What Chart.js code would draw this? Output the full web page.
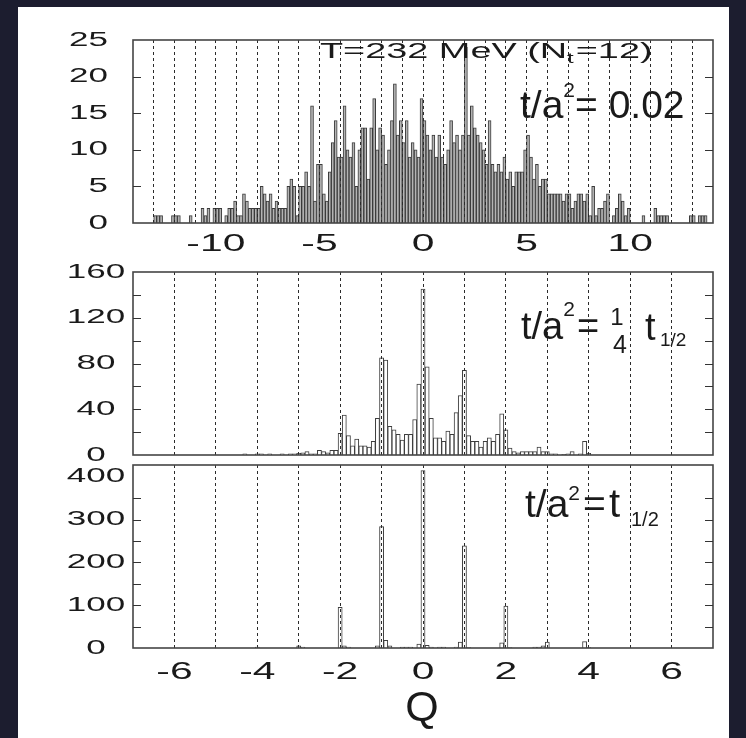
<!DOCTYPE html>
<html>
<head>
<meta charset="utf-8">
<script src="https://cdn.jsdelivr.net/npm/chart.js@4.4.0/dist/chart.umd.min.js"></script>
<style>
  html, body { margin: 0; padding: 0; width: 746px; height: 738px; background: #1c1d2f; overflow: hidden; }
  #sheet { position: absolute; left: 18px; top: 7px; width: 711px; height: 731px; background: #fff; }
  canvas { position: absolute; left: 0; top: 0; }
</style>
</head>
<body>
<div id="sheet"></div>
<canvas id="c1" width="746" height="738"></canvas>
<canvas id="c2" width="746" height="738"></canvas>
<canvas id="c3" width="746" height="738"></canvas>
<script>
// ---- data ----
// t/a^2 = 0.02 : bins of 1/7 in Q starting at Q = -14 (one row per unit of Q)
const flowStart = -14;
const flowBin = 1 / 7;
const flowCounts = [
  0, 0, 0, 0, 0, 0, 0,        // -14
  1, 1, 1, 0, 0, 0, 1,        // -13
  1, 1, 0, 0, 0, 1, 0,        // -12
  0, 0, 2, 1, 2, 0, 2,        // -11
  2, 2, 0, 1, 2, 2, 3,        // -10
  1, 1, 4, 3, 2, 2, 2,        // -9
  2, 5, 4, 3, 4, 2, 3,        // -8
  2, 2, 2, 5, 6, 5, 1,        // -7
  5, 5, 7, 5, 16, 3, 8,       // -6
  8, 4, 3, 7, 11, 14, 9,      // -5
  9, 16, 10, 9, 11, 5, 10,    // -4
  13, 13, 6, 13, 17, 10, 13,  // -3
  12, 8, 10, 14, 19, 12, 14,  // -2
  11, 14, 9, 11, 10, 9, 17,   // -1
  14, 12, 10, 12, 9, 12, 9,   // 0
  8, 10, 14, 11, 12, 10, 12,  // 1
  24, 12, 16, 13, 12, 11, 10, // 2
  8, 14, 8, 7, 8, 7, 9,       // 3
  6, 7, 5, 7, 7, 7, 10,       // 4
  12, 9, 6, 8, 5, 6, 6,       // 5
  4, 4, 4, 4, 4, 3, 4,        // 6
  4, 2, 3, 4, 4, 3, 4,        // 7
  1, 5, 1, 2, 2, 3, 4,        // 8
  0, 1, 2, 4, 3, 1, 2,        // 9
  0, 0, 0, 0, 1, 0, 0,        // 10
  0, 2, 1, 1, 1, 1, 0,        // 11
  0, 0, 0, 0, 0, 0, 1,        // 12
  1, 0, 1, 1, 1, 0, 0         // 13
];

// lower two panels: bins of 0.1 centred on Q = -4.5, -4.4, ... 4.2
const qStart = -4.5;
const qBin = 0.1;
const quarterCounts = [ // t/a^2 = t_1/2 / 4
  0, 0, 1, 0, 0, 1, 1, 0, 1, 0,
  0, 1, 0, 1, 1, 1.5, 2, 3, 1, 1,
  4, 3, 2, 4, 4, 19, 35, 17, 8, 14,
  8, 8, 7, 12, 32, 85, 83, 25, 22, 18,
  13, 18, 18, 31, 62, 145, 77, 32, 15, 15,
  12, 21, 18, 37, 52, 74, 17, 12, 12, 7,
  12, 15, 12, 18, 36, 22, 6, 3, 2, 3,
  3, 3, 3, 7, 3, 3, 1, 1, 0, 0.5,
  1, 3, 0, 1, 12, 1.5, 0, 0
];
const halfCounts = [ // t/a^2 = t_1/2
  0, 0, 0, 0, 0, 2, 0, 0, 0, 0,
  0, 0, 0, 0, 0, 5, 2, 0, 0, 0,
  0, 0, 0, 0, 0, 95, 5, 2, 0, 0,
  0, 0, 0, 0, 5, 284, 18, 5, 0, 0,
  2, 2, 2, 0, 9, 415, 6, 2, 0, 2,
  2, 0, 0, 2, 14, 239, 1, 0, 0, 0,
  0, 0, 0, 0, 12, 98, 1, 0, 0, 0,
  0, 0, 2, 2, 5, 14, 0, 0, 0, 0,
  0, 0, 0, 0, 15, 1, 0, 0
];

// tick labels
const flowXLabels = [-10, -5, 0, 5, 10];
const flowYLabels = [0, 5, 10, 15, 20, 25];
const quarterYLabels = [0, 40, 80, 120, 160];
const halfYLabels = [0, 100, 200, 300, 400];
const halfXLabels = [-6, -4, -2, 0, 2, 4, 6];

const FONT = '"Liberation Sans", Arial, sans-serif';

// draw text stretched horizontally, returns right end
function drawWide(ctx, text, x, y, size, sx, align, base) {
  ctx.font = size + 'px ' + FONT;
  const w = ctx.measureText(text).width * sx;
  const left = align === 'right' ? x - w : align === 'center' ? x - w / 2 : x;
  ctx.save();
  ctx.translate(left, y);
  ctx.scale(sx, 1);
  ctx.textAlign = 'left';
  ctx.textBaseline = base;
  ctx.fillText(text, 0, 0);
  ctx.restore();
  return left + w;
}

// frame, inward ticks, labels and notes of one panel
const panelPlugin = {
  id: 'panel',
  afterDraw(chart, args, o) {
    const ctx = chart.ctx, a = chart.chartArea;
    const x = chart.scales.x, y = chart.scales.y;
    ctx.save();
    ctx.strokeStyle = '#454545';
    ctx.lineWidth = 1.6;
    ctx.strokeRect(a.left, a.top, a.right - a.left, a.bottom - a.top);

    ctx.strokeStyle = '#333';
    ctx.lineWidth = 1;
    ctx.beginPath();
    y.ticks.forEach(t => {
      if (t.value <= y.min || t.value >= y.max) return;
      const py = Math.round(y.getPixelForValue(t.value)) + 0.5;
      ctx.moveTo(a.left, py); ctx.lineTo(a.left + 8, py);
      ctx.moveTo(a.right, py); ctx.lineTo(a.right - 8, py);
    });
    ctx.stroke();

    ctx.fillStyle = '#1a1a1a';
    o.yLabels.forEach(v => drawWide(ctx, String(v), o.yLabelX, y.getPixelForValue(v), 20, 1.75, o.yAlign, 'middle'));
    (o.xLabels || []).forEach(v => drawWide(ctx, String(v), x.getPixelForValue(v), o.xLabelY, 24, 1.7, 'center', 'middle'));
    let end = 0;
    (o.notes || []).forEach(n => {
      const nx = n.x === undefined ? end + (n.gap || 0) : n.x;
      end = drawWide(ctx, n.text, nx, n.y, n.size, n.sx || 1, n.align || 'left', 'alphabetic');
    });
    ctx.restore();
  }
};

function makePanel(id, bars, xmin, xmax, ymax, ystep, pad, plug, barFill, barLine) {
  return new Chart(document.getElementById(id), {
    type: 'bar',
    data: {
      datasets: [{
        data: bars,
        backgroundColor: barFill,
        borderColor: barLine,
        borderWidth: 1,
        barPercentage: 1,
        categoryPercentage: 1
      }]
    },
    options: {
      responsive: false,
      animation: false,
      devicePixelRatio: 1,
      events: [],
      layout: { padding: { left: 0, right: 746 - 713, top: pad.top, bottom: 0 } },
      plugins: { legend: { display: false }, tooltip: { enabled: false }, panel: plug },
      scales: {
        x: {
          type: 'linear', min: xmin, max: xmax, offset: false,
          ticks: { display: false, stepSize: 1, maxTicksLimit: 100 },
          grid: {
            offset: false, drawTicks: false, lineWidth: 1, z: 1,
            color: c => (c.tick && (c.tick.value <= xmin || c.tick.value >= xmax)) ? 'rgba(0,0,0,0)' : '#2b2b2b'
          },
          border: { display: false, dash: [3, 3] },
          afterFit: s => { s.height = 738 - pad.bottom; }
        },
        y: {
          min: 0, max: ymax,
          ticks: { display: false, stepSize: ystep },
          grid: { display: false },
          border: { display: false },
          afterFit: s => { s.width = 133; }
        }
      }
    },
    plugins: [panelPlugin]
  });
}

const flowBars = flowCounts.map((v, i) => ({ x: flowStart + (i + 0.5) * flowBin, y: v }));
const quarterBars = quarterCounts.map((v, i) => ({ x: Math.round((qStart + i * qBin) * 10) / 10, y: v }));
const halfBars = halfCounts.map((v, i) => ({ x: Math.round((qStart + i * qBin) * 10) / 10, y: v }));

makePanel('c1', flowBars, -14, 14, 25, 5, { top: 40, bottom: 223 }, {
  yLabels: flowYLabels, yLabelX: 108, yAlign: 'right',
  xLabels: flowXLabels, xLabelY: 244,
  notes: [
    { text: 'T=232 MeV (N', x: 320, y: 58, size: 22, sx: 1.72 },
    { text: 't', y: 63, size: 15, sx: 1.6 },
    { text: '=12)', y: 58, size: 22, sx: 1.72, gap: 2 },
    { text: 't/a', x: 520, y: 118, size: 39 },
    { text: '2', y: 97, size: 21 },
    { text: '= 0.02', y: 118, size: 39 }
  ]
}, '#b4b4b4', '#3a3a3a');

makePanel('c2', quarterBars, -7, 7, 160, 20, { top: 272, bottom: 455 }, {
  yLabels: quarterYLabels, yLabelX: 96, yAlign: 'center',
  notes: [
    { text: 't/a', x: 521, y: 339, size: 38 },
    { text: '2', y: 316, size: 21 },
    { text: '=', x: 577, y: 339, size: 38 },
    { text: '1', x: 617, y: 325, size: 24, align: 'center' },
    { text: '4', x: 620, y: 353, size: 25, align: 'center' },
    { text: 't', x: 645, y: 340, size: 38 },
    { text: '1/2', x: 660, y: 346, size: 19 }
  ]
}, '#ffffff', '#3d3d3d');

makePanel('c3', halfBars, -7, 7, 428, 50, { top: 465, bottom: 648 }, {
  yLabels: halfYLabels, yLabelX: 96, yAlign: 'center',
  xLabels: halfXLabels, xLabelY: 672,
  notes: [
    { text: 't/a', x: 525, y: 517, size: 39 },
    { text: '2', y: 500, size: 21 },
    { text: '=', x: 583, y: 517, size: 39 },
    { text: 't', x: 609, y: 517, size: 40 },
    { text: '1/2', x: 631, y: 526, size: 20 },
    { text: 'Q', x: 422, y: 721, size: 43, align: 'center' }
  ]
}, '#ffffff', '#3d3d3d');
</script>
</body>
</html>
